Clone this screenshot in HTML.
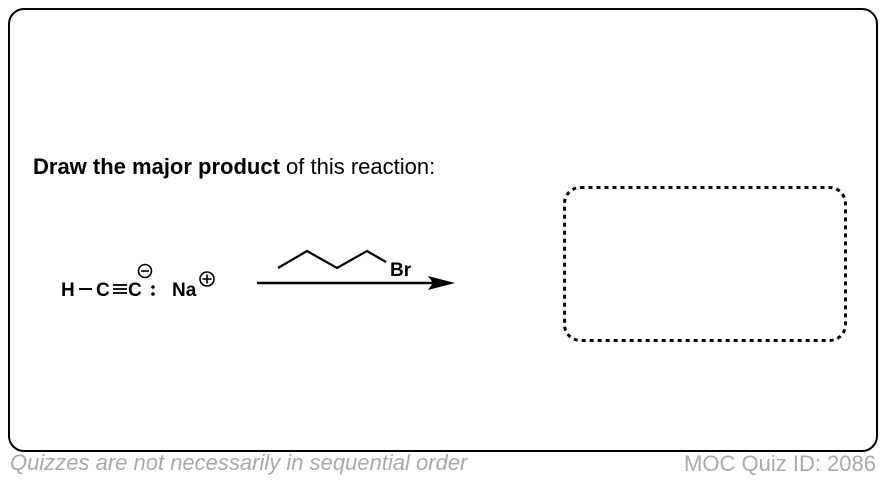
<!DOCTYPE html>
<html><head><meta charset="utf-8"><style>
body{margin:0;width:886px;height:482px;background:#fff;position:relative;font-family:"Liberation Sans",Arial,sans-serif;overflow:hidden}
.outer{position:absolute;left:8px;top:8px;width:870px;height:444px;border:2.5px solid #000;border-radius:16px;box-sizing:border-box}
.t{position:absolute;white-space:nowrap;line-height:1}
</style></head><body>
<div class="outer"></div>
<div class="t" style="left:33px;top:156px;font-size:22px;color:#000"><b>Draw the major product</b> of this reaction:</div>
<svg width="886" height="482" style="position:absolute;left:0;top:0">
<rect x="564.5" y="187.5" width="281" height="153" rx="16" ry="16" fill="none" stroke="#000" stroke-width="3" stroke-dasharray="4 4"/>
<polyline points="278,268 307,251 337,268 367,251 386,262" fill="none" stroke="#000" stroke-width="2.2"/>
<line x1="257" y1="283" x2="435" y2="283" stroke="#000" stroke-width="2.5"/>
<polygon points="455,283 428,276 433,283 428,290" fill="#000"/>
<line x1="79" y1="289" x2="92" y2="289" stroke="#000" stroke-width="2"/>
<line x1="113" y1="285" x2="127" y2="285" stroke="#000" stroke-width="1.8"/>
<line x1="113" y1="289" x2="127" y2="289" stroke="#000" stroke-width="1.8"/>
<line x1="113" y1="293" x2="127" y2="293" stroke="#000" stroke-width="1.8"/>
<circle cx="145" cy="271" r="6.5" fill="none" stroke="#000" stroke-width="1.6"/>
<line x1="141" y1="271" x2="149" y2="271" stroke="#000" stroke-width="1.6"/>
<circle cx="153" cy="287" r="1.8" fill="#000"/>
<circle cx="153" cy="294" r="1.8" fill="#000"/>
<circle cx="207" cy="279" r="7" fill="none" stroke="#000" stroke-width="1.6"/>
<line x1="202.5" y1="279" x2="211.5" y2="279" stroke="#000" stroke-width="1.6"/>
<line x1="207" y1="274.5" x2="207" y2="283.5" stroke="#000" stroke-width="1.6"/>
<g font-family="Liberation Sans, Arial, sans-serif" font-weight="bold" font-size="19">
<text x="61" y="296">H</text>
<text x="96" y="296">C</text>
<text x="128" y="296">C</text>
<text x="172" y="296">Na</text>
<text x="390" y="276">Br</text>
</g>
</svg>
<div class="t" style="left:10px;top:452px;font-size:22px;color:#aaa;font-style:italic">Quizzes are not necessarily in sequential order</div>
<div class="t" style="right:10px;top:453px;font-size:22px;color:#aaa">MOC Quiz ID: 2086</div>
</body></html>
